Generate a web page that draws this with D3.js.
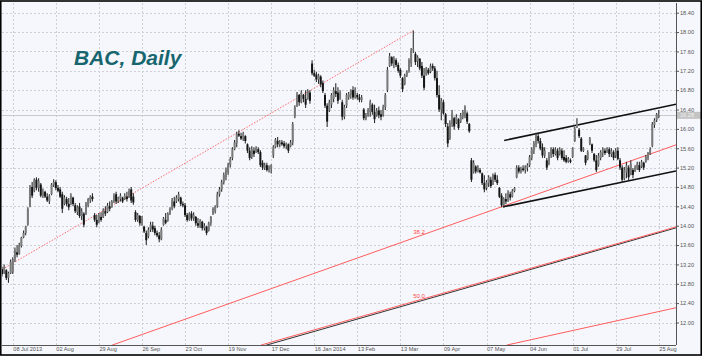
<!DOCTYPE html>
<html><head><meta charset="utf-8">
<script src="https://cdn.jsdelivr.net/npm/d3@7"></script>
<style>body{margin:0;background:#fff}svg{display:block}</style>
</head><body>
<svg id="c" width="702" height="356"></svg>
<script>
const high = [
13.15,13.20,13.10,13.05,13.30,13.35,13.55,13.60,13.65,13.77,
13.90,14.00,14.38,14.84,14.90,14.98,15.00,14.98,14.88,14.77,
14.72,14.67,14.65,14.88,14.96,14.94,14.84,14.80,14.70,14.63,
14.60,14.57,14.67,14.60,14.47,14.42,14.47,14.36,14.28,14.49,
14.57,14.63,14.67,14.26,14.22,14.26,14.28,14.36,14.40,14.47,
14.50,14.53,14.67,14.70,14.60,14.67,14.60,14.67,14.70,14.77,
14.80,14.67,14.32,14.26,14.22,14.20,14.00,13.90,13.97,14.08,
14.08,14.00,13.90,13.87,13.97,14.18,14.26,14.28,14.38,14.57,
14.60,14.63,14.70,14.60,14.50,14.47,14.26,14.28,14.30,14.28,
14.20,14.16,14.14,14.10,14.05,14.00,14.08,14.20,14.38,14.42,
14.70,14.80,14.95,15.10,15.20,15.30,15.42,15.62,15.77,15.94,
15.97,15.92,15.94,15.87,15.70,15.62,15.64,15.62,15.64,15.62,
15.56,15.35,15.30,15.30,15.25,15.27,15.66,15.81,15.83,15.77,
15.77,15.75,15.72,15.70,15.77,16.14,16.49,16.76,16.72,16.80,
16.72,16.80,16.82,16.80,17.42,17.22,17.18,17.14,17.11,17.00,
16.74,16.53,16.60,16.74,16.86,16.94,16.86,16.80,16.60,16.50,
16.74,16.76,16.82,16.88,16.86,16.74,16.72,16.70,16.43,16.33,
16.43,16.60,16.53,16.50,16.43,16.46,16.39,16.50,16.74,17.28,
17.57,17.50,17.50,17.46,17.37,17.25,17.07,17.14,17.21,17.46,
17.67,18.03,17.59,17.52,17.46,17.38,17.26,17.28,17.26,17.35,
17.35,17.30,17.20,16.90,16.64,16.60,16.33,16.12,16.18,16.39,
16.25,16.30,16.22,16.33,16.39,16.49,16.36,16.12,15.40,15.35,
15.25,15.25,15.19,15.10,15.04,14.94,15.04,15.01,15.08,15.10,
15.04,14.80,14.67,14.59,14.67,14.73,14.70,14.76,14.80,15.25,
15.25,15.22,15.25,15.25,15.29,15.46,15.62,15.75,15.92,15.92,
15.81,15.70,15.62,15.40,15.52,15.62,15.62,15.62,15.60,15.62,
15.60,15.56,15.46,15.42,15.39,15.62,16.04,16.22,16.02,15.83,
15.62,15.46,15.56,15.83,15.70,15.50,15.46,15.50,15.56,15.62,
15.60,15.62,15.62,15.60,15.56,15.60,15.62,15.40,15.25,15.21,
15.32,15.25,15.35,15.19,15.25,15.32,15.32,15.36,15.32,15.46,
15.52,15.62,16.14,16.22,16.33,16.39];
const low = [
12.95,13.00,12.88,12.82,13.00,13.00,13.25,13.35,13.40,13.55,
13.74,13.80,14.00,14.38,14.57,14.69,14.73,14.70,14.59,14.57,
14.57,14.49,14.45,14.63,14.80,14.73,14.69,14.57,14.26,14.42,
14.40,14.32,14.42,14.40,14.26,14.22,14.16,14.12,13.97,14.22,
14.38,14.47,14.50,14.08,13.97,14.05,14.08,14.16,14.20,14.26,
14.30,14.37,14.47,14.45,14.47,14.50,14.47,14.53,14.50,14.57,
14.47,14.43,14.08,14.08,14.00,14.00,13.85,13.60,13.74,13.87,
13.87,13.80,13.76,13.66,13.70,14.00,14.03,14.08,14.22,14.32,
14.36,14.47,14.50,14.40,14.38,14.18,14.08,14.10,14.10,14.10,
14.00,13.95,13.95,13.90,13.90,13.80,13.88,14.00,14.22,14.25,
14.37,14.60,14.70,14.85,14.94,15.05,15.20,15.35,15.56,15.62,
15.83,15.77,15.75,15.70,15.50,15.35,15.38,15.42,15.50,15.48,
15.21,15.15,15.15,15.12,15.10,15.08,15.40,15.60,15.62,15.62,
15.65,15.60,15.58,15.50,15.62,15.66,16.22,16.45,16.48,16.53,
16.55,16.43,16.60,16.52,17.11,17.07,16.97,16.93,16.86,16.74,
16.43,16.04,16.35,16.43,16.55,16.66,16.52,16.60,16.18,16.20,
16.43,16.60,16.62,16.60,16.62,16.60,16.55,16.55,16.18,16.18,
16.25,16.25,16.29,16.12,16.25,16.22,16.18,16.25,16.39,16.76,
17.28,17.30,17.25,17.28,17.16,17.05,16.76,16.90,17.07,17.16,
17.28,17.57,17.32,17.28,17.21,17.05,16.80,17.10,17.12,17.15,
17.20,17.00,16.65,16.35,16.18,16.29,16.04,15.62,15.77,16.04,
15.98,16.10,15.98,16.12,16.20,16.22,16.10,15.92,14.90,15.08,
15.08,15.10,15.08,14.84,14.69,14.73,14.80,14.78,14.84,14.90,
14.84,14.57,14.38,14.37,14.45,14.49,14.52,14.58,14.69,14.98,
15.08,15.08,15.12,15.08,15.12,15.21,15.35,15.48,15.62,15.70,
15.56,15.40,15.40,15.15,15.25,15.40,15.42,15.45,15.35,15.45,
15.36,15.32,15.29,15.30,15.29,15.40,15.73,16.02,15.81,15.52,
15.52,15.25,15.35,15.66,15.50,15.32,15.11,15.22,15.35,15.42,
15.46,15.50,15.42,15.42,15.35,15.40,15.35,15.15,14.88,14.94,
14.98,14.94,15.04,14.98,15.11,15.15,15.11,15.19,15.15,15.30,
15.35,15.46,15.62,16.02,16.14,16.22];
const open = [
13.10,13.02,13.08,12.92,13.02,13.05,13.30,13.45,13.42,13.58,
13.76,13.85,14.02,14.40,14.80,14.72,14.95,14.78,14.85,14.62,
14.70,14.60,14.50,14.65,14.85,14.90,14.78,14.75,14.65,14.45,
14.55,14.45,14.45,14.58,14.42,14.28,14.40,14.20,14.25,14.25,
14.42,14.52,14.60,14.22,14.12,14.08,14.18,14.18,14.30,14.28,
14.40,14.38,14.50,14.65,14.50,14.55,14.58,14.55,14.60,14.58,
14.75,14.60,14.28,14.12,14.20,14.05,13.98,13.85,13.78,13.92,
14.00,13.95,13.85,13.80,13.72,14.02,14.12,14.10,14.25,14.35,
14.50,14.50,14.55,14.58,14.45,14.42,14.22,14.12,14.25,14.15,
14.18,14.05,14.00,14.08,13.95,13.98,13.90,14.05,14.25,14.30,
14.40,14.65,14.75,14.90,15.00,15.10,15.25,15.40,15.58,15.70,
15.90,15.85,15.80,15.85,15.68,15.55,15.42,15.55,15.52,15.58,
15.52,15.30,15.20,15.25,15.15,15.18,15.45,15.62,15.75,15.68,
15.72,15.70,15.65,15.68,15.64,15.72,16.25,16.48,16.70,16.55,
16.70,16.62,16.62,16.75,17.35,17.15,17.12,17.02,17.08,16.95,
16.70,16.48,16.38,16.50,16.62,16.78,16.75,16.62,16.55,16.25,
16.48,16.65,16.70,16.80,16.65,16.70,16.65,16.60,16.40,16.22,
16.28,16.35,16.50,16.35,16.28,16.38,16.30,16.28,16.45,16.80,
17.30,17.48,17.35,17.42,17.32,17.22,17.05,16.92,17.10,17.20,
17.35,17.62,17.55,17.40,17.45,17.30,17.10,17.12,17.22,17.18,
17.30,17.25,17.05,16.70,16.40,16.55,16.30,16.05,15.80,16.10,
16.22,16.12,16.20,16.15,16.25,16.30,16.32,16.10,15.35,15.10,
15.22,15.12,15.15,15.08,14.88,14.78,14.88,14.95,14.85,15.05,
14.95,14.78,14.62,14.42,14.55,14.52,14.65,14.60,14.72,15.00,
15.20,15.12,15.18,15.15,15.20,15.25,15.40,15.55,15.68,15.85,
15.75,15.62,15.45,15.35,15.28,15.45,15.58,15.48,15.55,15.48,
15.55,15.42,15.40,15.32,15.35,15.42,15.75,16.05,15.98,15.80,
15.55,15.45,15.38,15.70,15.68,15.48,15.35,15.25,15.40,15.50,
15.55,15.52,15.58,15.48,15.52,15.45,15.55,15.35,15.20,14.98,
15.10,15.20,15.05,15.15,15.12,15.18,15.25,15.22,15.30,15.32,
15.40,15.48,15.65,16.08,16.18,16.25];
const close = [
13.00,13.15,12.92,13.02,13.25,13.30,13.50,13.40,13.60,13.75,
13.85,13.98,14.35,14.80,14.62,14.95,14.78,14.92,14.62,14.70,
14.60,14.52,14.62,14.85,14.90,14.78,14.72,14.60,14.35,14.58,
14.45,14.38,14.62,14.45,14.30,14.38,14.20,14.30,14.02,14.45,
14.55,14.60,14.55,14.12,14.02,14.20,14.12,14.32,14.25,14.42,
14.35,14.50,14.62,14.50,14.58,14.62,14.50,14.62,14.55,14.72,
14.52,14.48,14.12,14.22,14.05,14.15,13.88,13.70,13.92,14.02,
13.92,13.85,13.80,13.72,13.92,14.15,14.06,14.25,14.35,14.52,
14.40,14.58,14.65,14.45,14.42,14.22,14.12,14.25,14.15,14.22,
14.05,14.00,14.10,13.95,14.00,13.85,14.05,14.18,14.35,14.40,
14.65,14.75,14.90,15.05,15.15,15.25,15.38,15.58,15.72,15.90,
15.86,15.80,15.90,15.75,15.55,15.40,15.58,15.48,15.60,15.52,
15.25,15.20,15.25,15.15,15.20,15.25,15.62,15.78,15.68,15.72,
15.68,15.64,15.70,15.55,15.72,16.10,16.45,16.70,16.55,16.75,
16.62,16.50,16.78,16.58,17.15,17.10,17.02,17.10,16.92,16.78,
16.48,16.15,16.55,16.70,16.80,16.72,16.58,16.75,16.25,16.45,
16.70,16.72,16.80,16.65,16.82,16.65,16.60,16.65,16.22,16.28,
16.38,16.55,16.35,16.20,16.38,16.28,16.25,16.45,16.70,17.22,
17.50,17.35,17.45,17.32,17.20,17.10,16.82,17.10,17.18,17.42,
17.62,17.65,17.38,17.48,17.25,17.10,16.85,17.25,17.15,17.30,
17.25,17.05,16.70,16.40,16.58,16.32,16.10,15.70,16.12,16.32,
16.05,16.25,16.02,16.28,16.35,16.45,16.15,15.95,14.95,15.30,
15.12,15.20,15.10,14.88,14.75,14.90,15.00,14.82,15.05,14.95,
14.88,14.60,14.42,14.55,14.50,14.68,14.58,14.72,14.78,15.20,
15.12,15.18,15.15,15.22,15.25,15.42,15.58,15.70,15.88,15.75,
15.60,15.45,15.55,15.20,15.45,15.58,15.48,15.58,15.40,15.58,
15.40,15.35,15.32,15.38,15.32,15.60,16.00,16.10,15.85,15.55,
15.60,15.30,15.52,15.80,15.55,15.35,15.15,15.45,15.52,15.58,
15.50,15.60,15.48,15.55,15.40,15.55,15.38,15.20,14.95,15.15,
15.25,15.00,15.28,15.05,15.20,15.28,15.15,15.32,15.20,15.42,
15.50,15.58,16.10,16.18,16.30,16.28];

const dateLabels = ["08 Jul 2013","02 Aug","29 Aug","26 Sep","23 Oct","19 Nov","17 Dec","16 Jan 2014",
                    "13 Feb","13 Mar","09 Apr","07 May","04 Jun","01 Jul","29 Jul","25 Aug"];
const dateBars = [5,25,45,65,85,105,125,145,165,185,205,225,245,265,285,305];
const priceTicks = [12.00,12.40,12.80,13.20,13.60,14.00,14.40,14.80,15.20,15.60,16.00,16.40,16.80,17.20,17.60,18.00,18.40];
const lastPrice = 16.28;
const title = "BAC, Daily";

// drawn objects: [bar, price] endpoints
const lineNames = ["fanTrend","fib382","fib500","baseLine","fib618","chanTop","chanBottom"];
const lineFrom = [[-1,13.07],[51,11.53],[120.3,11.534],[121.0,11.51],[234.4,11.534],[233.2,15.76],[232.8,14.39]];
const lineTo   = [[191,18.03],[313,15.67],[313,13.975],[313,13.955],[313,12.305],[313,16.51],[313,15.13]];
const fibLabels = ["38.2","50.0"];
const fibLabelLines = ["fib382","fib500"];
const fibLabelBar = 191;

const W = 702, H = 356;
const L = 2, R = 676, T = 3, B = 345;
const svg = d3.select("#c");
const x = d3.scaleLinear().domain([0, 313]).range([L, R]);
const y = d3.scaleLinear().domain([12.0, 18.4]).range([322.5, 12.7]);

svg.append("rect").attr("width", W).attr("height", H).attr("fill", "#f6f7fc");

const defs = svg.append("defs");
defs.append("clipPath").attr("id", "plot").append("rect")
  .attr("x", L).attr("y", T).attr("width", R - L).attr("height", B - T);

// grid
const grid = svg.append("g");
grid.selectAll("line.h").data(priceTicks).join("line")
  .attr("x1", L).attr("x2", R).attr("y1", d => Math.round(y(d)) + 0.5).attr("y2", d => Math.round(y(d)) + 0.5)
  .attr("stroke", "#cfd0d6").attr("stroke-dasharray", "2,2").attr("stroke-width", 1);
grid.selectAll("line.v").data(dateBars).join("line")
  .attr("x1", d => Math.round(x(d)) + 0.5).attr("x2", d => Math.round(x(d)) + 0.5).attr("y1", T).attr("y2", B)
  .attr("stroke", "#cfd0d6").attr("stroke-dasharray", "2,2").attr("stroke-width", 1);

// title
svg.append("text").attr("x", 74).attr("y", 65).text(title)
  .attr("font-family", "Liberation Sans, Arial, sans-serif").attr("font-size", 21)
  .attr("font-weight", "bold").attr("font-style", "italic").attr("fill", "#17666f");

const plot = svg.append("g").attr("clip-path", "url(#plot)");

// last price line
plot.append("line").attr("x1", L).attr("x2", R)
  .attr("y1", Math.round(y(lastPrice)) + 0.5).attr("y2", Math.round(y(lastPrice)) + 0.5)
  .attr("stroke", "#c9c9c9").attr("stroke-width", 1);

// trend / fib lines
const lineStyle = {
  fanTrend: {c: "#ff6b6b", w: 1, d: "1.5,1.5"},
  fib382: {c: "#ff5c5c", w: 1, d: null},
  fib500: {c: "#ff5c5c", w: 1, d: null},
  baseLine: {c: "#333", w: 1, d: null},
  fib618: {c: "#ff5c5c", w: 1, d: null},
  chanTop: {c: "#111", w: 1.6, d: null},
  chanBottom: {c: "#111", w: 1.6, d: null}
};
const order = ["baseLine","fib500","fib382","fib618","fanTrend","chanTop","chanBottom"];
order.forEach(n => {
  const i = lineNames.indexOf(n), s = lineStyle[n];
  const ln = plot.append("line")
    .attr("x1", x(lineFrom[i][0])).attr("y1", y(lineFrom[i][1]))
    .attr("x2", x(lineTo[i][0])).attr("y2", y(lineTo[i][1]))
    .attr("stroke", s.c).attr("stroke-width", s.w);
  if (s.d) ln.attr("stroke-dasharray", s.d);
});
fibLabels.forEach((t, k) => {
  const i = lineNames.indexOf(fibLabelLines[k]);
  const f = lineFrom[i], e = lineTo[i];
  const p = f[1] + (fibLabelBar - f[0]) * (e[1] - f[1]) / (e[0] - f[0]);
  svg.append("text").attr("x", x(fibLabelBar)).attr("y", y(p) - 4).text(t)
    .attr("font-family", "Liberation Sans, Arial, sans-serif").attr("font-size", 6)
    .attr("fill", "#ff4a4a");
});

// candles
const idx = d3.range(high.length);
const bars = plot.append("g");
bars.selectAll("line.w").data(idx).join("line")
  .attr("x1", i => x(i)).attr("x2", i => x(i))
  .attr("y1", i => y(high[i])).attr("y2", i => y(low[i]))
  .attr("stroke", "#2e2e2e").attr("stroke-width", 1.1);
bars.selectAll("rect.b").data(idx).join("rect")
  .attr("x", i => x(i) - 1).attr("width", 2)
  .attr("y", i => y(Math.min(high[i], Math.max(open[i], close[i]))))
  .attr("height", i => Math.max(0.8, y(Math.max(low[i], Math.min(open[i], close[i]))) - y(Math.min(high[i], Math.max(open[i], close[i])))))
  .attr("fill", i => close[i] >= open[i] ? "#7a7a7a" : "#151515");

// axes
const ax = svg.append("g").attr("transform", `translate(${R},0)`)
  .call(d3.axisRight(y).tickValues(priceTicks).tickFormat(d3.format(".2f")).tickSize(3).tickPadding(1));
ax.select(".domain").attr("stroke", "#555").attr("d", `M0.5,${T}V${B}`);
ax.selectAll(".tick line").attr("stroke", "#555");
ax.selectAll("text").attr("font-family", "Liberation Sans, Arial, sans-serif").attr("font-size", 5.6).attr("fill", "#555");

const bx = svg.append("g").attr("transform", `translate(0,${B})`)
  .call(d3.axisBottom(x).tickValues(dateBars).tickFormat((d, i) => dateLabels[i]).tickSize(0).tickPadding(2));
bx.select(".domain").attr("stroke", "#555").attr("d", `M${L},0.5H${R}`);
bx.selectAll("text").attr("text-anchor", "start").attr("dy", "0.72em")
  .attr("font-family", "Liberation Sans, Arial, sans-serif").attr("font-size", 5.6).attr("fill", "#555");

// last price label
const ly = y(lastPrice);
svg.append("rect").attr("x", R + 1).attr("y", ly - 3.5).attr("width", 24).attr("height", 7).attr("fill", "#c3c3c3");
svg.append("text").attr("x", R + 4).attr("y", ly + 2).text(lastPrice.toFixed(2))
  .attr("font-family", "Liberation Sans, Arial, sans-serif").attr("font-size", 5.6).attr("fill", "#f2f2f2");

// frame
svg.append("rect").attr("x", 0.75).attr("y", 1).attr("width", W - 1.5).attr("height", H - 2)
  .attr("fill", "none").attr("stroke", "#000").attr("stroke-width", 1.6);
</script>
</body></html>
